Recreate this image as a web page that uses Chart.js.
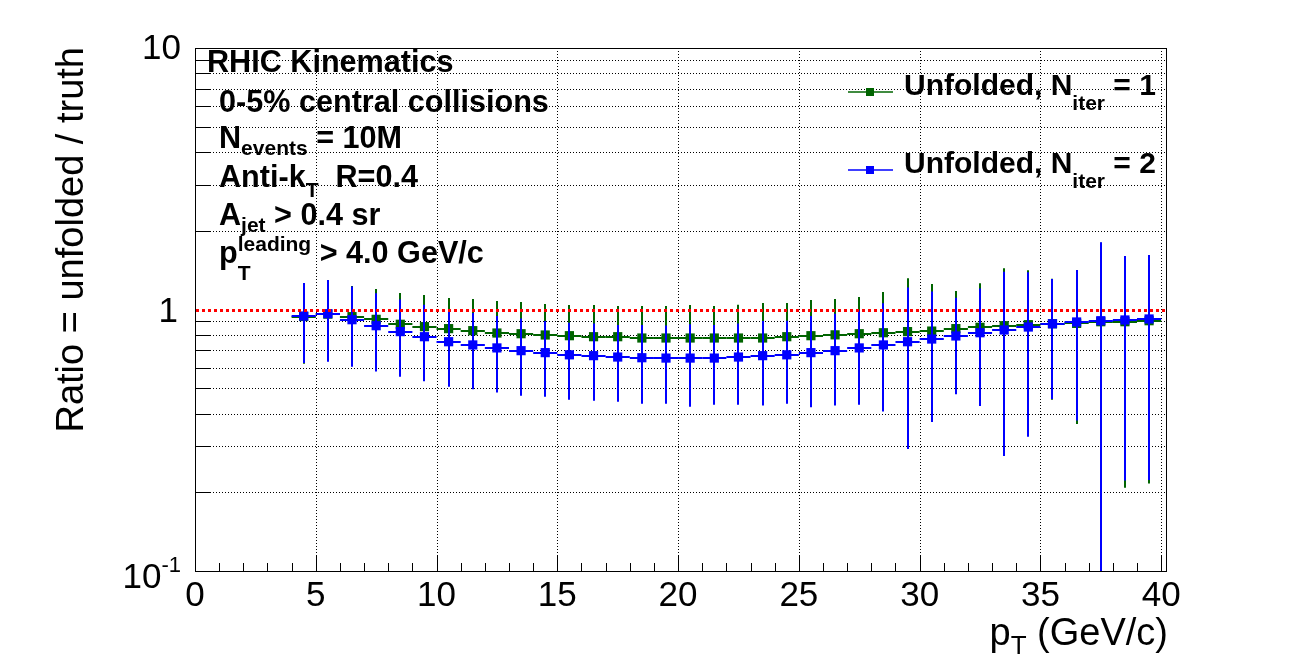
<!DOCTYPE html>
<html>
<head>
<meta charset="utf-8">
<script src="https://cdn.jsdelivr.net/npm/chart.js@4.4.1/dist/chart.umd.min.js"></script>
<style>
  html, body { margin: 0; padding: 0; background: #fff; }
  #wrap { width: 1296px; height: 672px; }
</style>
</head>
<body>
<div id="wrap"><canvas id="ratioChart" width="1296" height="672"></canvas></div>
<script>
// ─── Data ──────────────────────────────────────────────────────────────────────
const ptBins = [4.5, 5.5, 6.5, 7.5, 8.5, 9.5, 10.5, 11.5, 12.5, 13.5, 14.5, 15.5,
  16.5, 17.5, 18.5, 19.5, 20.5, 21.5, 22.5, 23.5, 24.5, 25.5, 26.5, 27.5,
  28.5, 29.5, 30.5, 31.5, 32.5, 33.5, 34.5, 35.5, 36.5, 37.5, 38.5, 39.5];

// Unfolded, N_iter = 1 (green)
const ratioIter1 = [0.940, 0.960, 0.939, 0.917, 0.878, 0.860, 0.845, 0.830, 0.813, 0.808, 0.799, 0.794,
  0.787, 0.787, 0.778, 0.778, 0.778, 0.778, 0.778, 0.778, 0.787, 0.794, 0.800, 0.808,
  0.815, 0.823, 0.827, 0.845, 0.855, 0.867, 0.875, 0.882, 0.885, 0.898, 0.898, 0.906];
const errIter1 = [0.320, 0.325, 0.290, 0.281, 0.278, 0.276, 0.261, 0.267, 0.265, 0.260, 0.251, 0.246,
  0.253, 0.244, 0.253, 0.253, 0.262, 0.253, 0.265, 0.281, 0.272, 0.293, 0.297, 0.309,
  0.352, 0.493, 0.425, 0.332, 0.404, 0.570, 0.537, 0.430, 0.520, 0.900, 0.690, 0.690];

// Unfolded, N_iter = 2 (blue)
const ratioIter2 = [0.944, 0.964, 0.914, 0.867, 0.823, 0.787, 0.753, 0.732, 0.713, 0.696, 0.684, 0.671,
  0.666, 0.658, 0.654, 0.652, 0.652, 0.652, 0.658, 0.666, 0.671, 0.684, 0.696, 0.713,
  0.732, 0.753, 0.771, 0.792, 0.815, 0.835, 0.857, 0.882, 0.896, 0.906, 0.912, 0.920];
const errIter2 = [0.320, 0.333, 0.310, 0.288, 0.270, 0.255, 0.246, 0.237, 0.232, 0.228, 0.220, 0.219,
  0.218, 0.214, 0.218, 0.216, 0.227, 0.220, 0.226, 0.237, 0.235, 0.261, 0.267, 0.281,
  0.325, 0.460, 0.400, 0.318, 0.387, 0.560, 0.531, 0.427, 0.520, 0.900, 0.690, 0.697];

const binHalfWidth = 0.5;
const xMajorTicks = [0, 5, 10, 15, 20, 25, 30, 35, 40];
const xMinorStep = 1;
const yDecades = [0.1, 1, 10];
const referenceLine = 1;

const FONT = '"Liberation Sans", Arial, Helvetica, sans-serif';
const GREEN = '#006400';
const BLUE = '#0000ff';

// ─── Helpers ───────────────────────────────────────────────────────────────────
function crisp(v) { return Math.round(v) + 0.5; }

function yMinorValues() {
  const out = [];
  for (let d = 0; d < yDecades.length - 1; d++) {
    for (let m = 2; m <= 9; m++) out.push(yDecades[d] * m);
  }
  return out;
}

// draws a run of [text, size, dy] pieces from left to right, returns end x
function drawRun(ctx, x, y, parts, weight) {
  let cx = x;
  parts.forEach(([t, size, dy]) => {
    ctx.font = `${weight} ${size}px ${FONT}`;
    ctx.fillText(t, cx, y + dy);
    cx += ctx.measureText(t).width;
  });
  return cx;
}

function runWidth(ctx, parts, weight) {
  let w = 0;
  parts.forEach(([t, size]) => {
    ctx.font = `${weight} ${size}px ${FONT}`;
    w += ctx.measureText(t).width;
  });
  return w;
}

// ─── Plugins ───────────────────────────────────────────────────────────────────
const gridPlugin = {
  id: 'rootGrid',
  beforeDatasetsDraw(chart) {
    const { ctx, chartArea: a, scales: { x, y } } = chart;
    ctx.save();
    ctx.strokeStyle = '#000';
    ctx.lineWidth = 1;
    ctx.setLineDash([1, 2]);
    xMajorTicks.forEach(v => {
      const px = crisp(x.getPixelForValue(v));
      if (px <= a.left + 1) return;
      ctx.beginPath(); ctx.moveTo(px, a.top); ctx.lineTo(px, a.bottom); ctx.stroke();
    });
    // the grid line at ratio = 1 is hidden under the red reference line
    yMinorValues().forEach(v => {
      const py = crisp(y.getPixelForValue(v));
      ctx.beginPath(); ctx.moveTo(a.left, py); ctx.lineTo(a.right, py); ctx.stroke();
    });
    ctx.restore();
  }
};

const errorBarPlugin = {
  id: 'errorBars',
  beforeDatasetDraw(chart, args) {
    const ds = chart.data.datasets[args.index];
    if (!ds.errors) return;
    const { ctx, chartArea: a, scales: { x, y } } = chart;
    ctx.save();
    ctx.beginPath();
    ctx.rect(a.left, a.top, a.right - a.left, a.bottom - a.top);
    ctx.clip();
    ctx.strokeStyle = ds.backgroundColor;
    ctx.lineWidth = 2;
    ds.data.forEach((p, i) => {
      const e = ds.errors[i];
      const px = Math.round(x.getPixelForValue(p.x));
      const py = Math.round(y.getPixelForValue(p.y));
      const top = y.getPixelForValue(p.y + e);
      const bot = y.getPixelForValue(Math.max(p.y - e, 0.01));
      ctx.beginPath();
      ctx.moveTo(px, top); ctx.lineTo(px, bot);
      ctx.moveTo(x.getPixelForValue(p.x - binHalfWidth), py);
      ctx.lineTo(x.getPixelForValue(p.x + binHalfWidth), py);
      ctx.stroke();
    });
    ctx.restore();
  }
};

const framePlugin = {
  id: 'rootFrame',
  afterDatasetsDraw(chart) {
    const { ctx, chartArea: a, scales: { x, y } } = chart;
    ctx.save();

    // frame
    ctx.strokeStyle = '#000';
    ctx.lineWidth = 1;
    ctx.strokeRect(crisp(a.left), crisp(a.top), Math.round(a.right - a.left), Math.round(a.bottom - a.top));

    // x ticks
    ctx.beginPath();
    for (let v = xMajorTicks[0]; v <= xMajorTicks[xMajorTicks.length - 1]; v += xMinorStep) {
      const px = crisp(x.getPixelForValue(v));
      const len = xMajorTicks.includes(v) ? 15 : 8;
      ctx.moveTo(px, a.bottom); ctx.lineTo(px, a.bottom - len);
    }
    // y ticks
    yMinorValues().forEach(v => {
      const py = crisp(y.getPixelForValue(v));
      ctx.moveTo(a.left, py); ctx.lineTo(a.left + 15, py);
    });
    ctx.stroke();

    // reference line at ratio = 1
    const ry = Math.round(y.getPixelForValue(referenceLine)) + 0.5;
    ctx.strokeStyle = '#ff0000';
    ctx.lineWidth = 3;
    ctx.setLineDash([3, 3]);
    ctx.beginPath(); ctx.moveTo(a.left + 1, ry); ctx.lineTo(a.right, ry); ctx.stroke();
    ctx.setLineDash([]);

    // x tick labels
    ctx.fillStyle = '#000';
    ctx.font = `35px ${FONT}`;
    ctx.textAlign = 'center';
    ctx.textBaseline = 'alphabetic';
    xMajorTicks.forEach(v => ctx.fillText(String(v), x.getPixelForValue(v), a.bottom + 35));

    // y tick labels (log decades)
    ctx.textAlign = 'right';
    const labX = a.left - 14;
    ctx.fillText('10', labX, y.getPixelForValue(10) + 11);
    ctx.fillText('1', labX - 3, y.getPixelForValue(1) + 12);
    ctx.font = `22px ${FONT}`;
    ctx.fillText('-1', labX, y.getPixelForValue(0.1) + 1);
    const supW = ctx.measureText('-1').width;
    ctx.font = `35px ${FONT}`;
    ctx.fillText('10', labX - supW, y.getPixelForValue(0.1) + 17);

    ctx.restore();
  }
};

const annotationPlugin = {
  id: 'annotations',
  afterDraw(chart) {
    const { ctx, chartArea: a } = chart;
    ctx.save();
    ctx.fillStyle = '#000';
    ctx.textAlign = 'left';
    ctx.textBaseline = 'alphabetic';

    // axis titles
    const xTitle = [['p', 38, 0], ['T', 26, 9], [' (GeV/c)', 38, 0]];
    const xw = runWidth(ctx, xTitle, 'normal');
    drawRun(ctx, 1168 - xw, 645, xTitle, 'normal');

    ctx.save();
    ctx.translate(83, a.top - 1);
    ctx.rotate(-Math.PI / 2);
    ctx.textAlign = 'right';
    ctx.font = `38px ${FONT}`;
    ctx.fillText('Ratio = unfolded / truth', 0, 0);
    ctx.restore();

    // kinematics block
    const L = 219, B = 30.6, S = 21;
    ctx.font = `bold ${B}px ${FONT}`;
    ctx.fillText('RHIC Kinematics', 207, 72);
    ctx.fillText('0-5% central collisions', L, 112);
    drawRun(ctx, L, 148, [['N', B, 0], ['events', S, 7], [' = 10M', B, 0]], 'bold');
    drawRun(ctx, L, 187, [['Anti-k', B, 0], ['T', S, 10], ['  R=0.4', B, 0]], 'bold');
    drawRun(ctx, L, 225, [['A', B, 0], ['jet', S, 7], [' > 0.4 sr', B, 0]], 'bold');
    const pEnd = drawRun(ctx, L, 263, [['p', B, 0]], 'bold');
    ctx.font = `bold ${S}px ${FONT}`;
    ctx.fillText('T', pEnd, 263 + 17);
    const supEnd = drawRun(ctx, pEnd, 263, [['leading', S, -12]], 'bold');
    drawRun(ctx, supEnd, 263, [[' > 4.0 GeV/c', B, 0]], 'bold');

    // legend
    const legend = [
      { color: GREEN, y: 92, label: '1' },
      { color: BLUE, y: 170, label: '2' }
    ];
    legend.forEach(item => {
      ctx.strokeStyle = item.color;
      ctx.lineWidth = 1.5;
      ctx.beginPath(); ctx.moveTo(848, item.y); ctx.lineTo(893, item.y); ctx.stroke();
      ctx.fillStyle = item.color;
      ctx.fillRect(866, item.y - 4, 8, 8);
      ctx.fillStyle = '#000';
      drawRun(ctx, 904, item.y + 3, [['Unfolded, N', 30, 0], ['iter', 21, 15], [' = ' + item.label, 30, 0]], 'bold');
    });
    ctx.restore();
  }
};

// ─── Chart ─────────────────────────────────────────────────────────────────────
const ctx = document.getElementById('ratioChart');
new Chart(ctx, {
  type: 'scatter',
  data: {
    datasets: [
      {
        label: 'Unfolded, N_iter = 2',
        data: ptBins.map((x, i) => ({ x, y: ratioIter2[i] })),
        errors: errIter2,
        backgroundColor: BLUE,
        borderColor: BLUE,
        pointStyle: 'rect',
        pointRadius: 6.5,
        pointHoverRadius: 6.5,
        pointBorderWidth: 0,
        order: 1
      },
      {
        label: 'Unfolded, N_iter = 1',
        data: ptBins.map((x, i) => ({ x, y: ratioIter1[i] })),
        errors: errIter1,
        backgroundColor: GREEN,
        borderColor: GREEN,
        pointStyle: 'rect',
        pointRadius: 6.5,
        pointHoverRadius: 6.5,
        pointBorderWidth: 0,
        order: 2
      }
    ]
  },
  options: {
    responsive: false,
    animation: false,
    devicePixelRatio: 1,
    layout: { padding: { left: 195, top: 48, right: 130, bottom: 101 } },
    plugins: { legend: { display: false }, tooltip: { enabled: false } },
    scales: {
      x: { type: 'linear', min: 0, max: 40.2, display: false },
      y: { type: 'logarithmic', min: 0.1, max: 10, display: false }
    }
  },
  plugins: [gridPlugin, errorBarPlugin, framePlugin, annotationPlugin]
});
</script>
</body>
</html>
